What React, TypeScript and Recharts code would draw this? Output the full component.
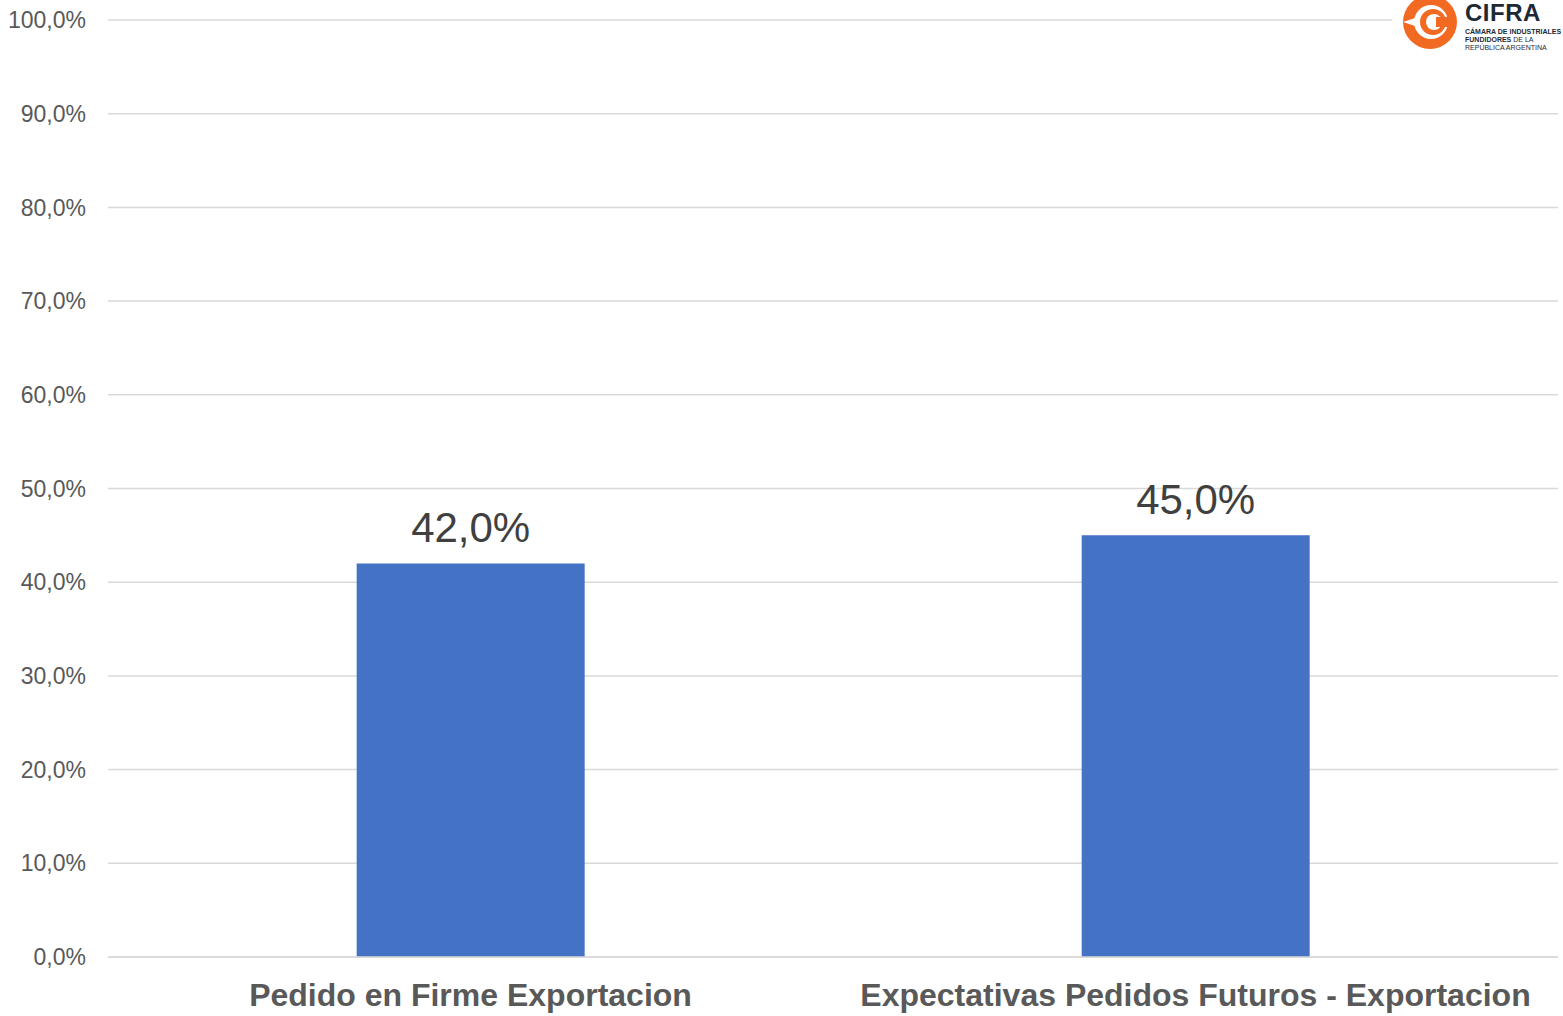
import React from 'react';
import { BarChart, Bar, XAxis, YAxis, CartesianGrid, LabelList } from 'recharts';

const categories = ['Pedido en Firme Exportacion', 'Expectativas Pedidos Futuros - Exportacion'];
const values = [42.0, 45.0];
const yTicks = [0, 10, 20, 30, 40, 50, 60, 70, 80, 90, 100];

const data = categories.map((name, i) => ({ name, value: values[i] }));

const fmt = (v: number) => v.toFixed(1).replace('.', ',') + '%';

const FONT = 'Arial, "Liberation Sans", Helvetica, sans-serif';

const Logo = () => (
  <svg width={171} height={56} style={{ position: 'absolute', left: 1392, top: 0 }}>
    <rect x={0} y={0} width={171} height={56} fill="#ffffff" />
    <circle cx={38} cy={22} r={27} fill="#f26a21" />
    <circle cx={39} cy={22} r={17} fill="#ffffff" />
    <circle cx={41} cy={22} r={13} fill="#f26a21" />
    <circle cx={42} cy={22} r={8} fill="#ffffff" />
    <rect x={44} y={17} width={12} height={10} fill="#f26a21" />
    <path d="M 11 22 L 23 18 L 23 26 Z" fill="#ffffff" />
    <text x={73} y={21} fontFamily={FONT} fontSize={24} fontWeight={700} fill="#1d2a36" letterSpacing={0.5}>CIFRA</text>
    <text x={73} y={34} fontFamily={FONT} fontSize={7} fontWeight={700} fill="#1d2a36">CÁMARA DE INDUSTRIALES</text>
    <text x={73} y={42} fontFamily={FONT} fontSize={7} fill="#1d2a36"><tspan fontWeight={700}>FUNDIDORES</tspan> DE LA</text>
    <text x={73} y={50} fontFamily={FONT} fontSize={7} fill="#1d2a36">REPÚBLICA ARGENTINA</text>
  </svg>
);

export default function App() {
  return (
    <div style={{ position: 'absolute', left: 0, top: 0, width: 1563, height: 1016, background: '#ffffff' }}>
      <BarChart
        width={1563}
        height={1016}
        data={data}
        margin={{ top: 20, right: 5, left: 0, bottom: 0 }}
        barCategoryGap="34.3%"
      >
        <CartesianGrid vertical={false} stroke="#d9d9d9" strokeWidth={1.5} />
        <XAxis
          dataKey="name"
          axisLine={{ stroke: '#d9d9d9', strokeWidth: 1.5 }}
          tickLine={false}
          height={59}
          tick={{ fontFamily: FONT, fontSize: 32, fontWeight: 700, fill: '#595959' }}
          tickMargin={20}
          interval={0}
        />
        <YAxis
          domain={[0, 100]}
          ticks={yTicks}
          tickFormatter={fmt}
          axisLine={false}
          tickLine={false}
          width={108}
          tickMargin={16}
          tick={{ fontFamily: FONT, fontSize: 23, fill: '#595959' }}
        />
        <Bar dataKey="value" fill="#4472c4" isAnimationActive={false}>
          <LabelList
            dataKey="value"
            position="top"
            offset={21}
            formatter={(v: number) => fmt(v)}
            style={{ fontFamily: FONT, fontSize: 42, fill: '#404040' }}
          />
        </Bar>
      </BarChart>
      <Logo />
    </div>
  );
}
